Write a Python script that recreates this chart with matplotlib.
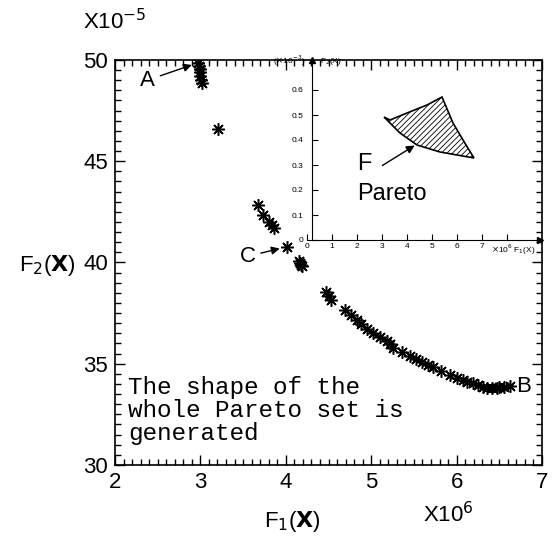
import matplotlib
matplotlib.use("Agg")
import matplotlib.pyplot as plt
import matplotlib.ticker as mticker

plt.rcParams['font.family'] = ['Liberation Sans', 'DejaVu Sans']
plt.rcParams['mathtext.fontset'] = 'dejavusans'
plt.rcParams['hatch.linewidth'] = 0.6

# main Pareto points (F1 in 1e6, F2 in 1e-5)
f1 = [2.97, 2.98, 2.99, 3.00, 3.00, 3.01, 3.02, 3.21,
      3.67, 3.73, 3.80, 3.84, 3.86, 4.01,
      4.15, 4.17, 4.19, 4.18, 4.47, 4.50, 4.53,
      4.69, 4.76, 4.83, 4.88, 4.95, 5.02, 5.10, 5.18, 5.22, 5.26,
      5.36, 5.45, 5.52, 5.60, 5.66, 5.72, 5.82, 5.92, 6.00, 6.07,
      6.12, 6.19, 6.25, 6.31, 6.36, 6.42, 6.47, 6.50, 6.56, 6.62]
f2 = [49.85, 49.7, 49.55, 49.4, 49.2, 49.0, 48.85, 46.6,
      42.85, 42.35, 42.0, 41.85, 41.7, 40.75,
      40.05, 39.95, 39.85, 39.9, 38.55, 38.35, 38.15,
      37.65, 37.4, 37.15, 36.95, 36.7, 36.5, 36.3, 36.1, 35.95, 35.8,
      35.6, 35.4, 35.25, 35.1, 34.95, 34.85, 34.65, 34.45, 34.3, 34.2,
      34.1, 34.05, 33.95, 33.85, 33.8, 33.8, 33.8, 33.85, 33.85, 33.9]

# inset: sketch of the Pareto front region
shape_x = [3.08, 3.32, 4.0, 4.8, 5.4, 5.84, 6.24, 6.68, 5.32, 4.4, 3.72]
shape_y = [0.492, 0.48, 0.508, 0.54, 0.572, 0.468, 0.40, 0.328, 0.352, 0.38, 0.428]
inset_xticks = [0, 1, 2, 3, 4, 5, 6, 7, 8]
inset_xlabels = ['0', '1', '2', '3', '4', '5', '6', '7', '']
inset_yticks = [0, 0.1, 0.2, 0.3, 0.4, 0.5, 0.6]
inset_ylabels = ['0', '0.1', '0.2', '0.3', '0.4', '0.5', '0.6']

fig = plt.figure(figsize=(5.57, 5.36), dpi=100)
ax = fig.add_axes([0.2065, 0.1325, 0.7666, 0.7556])

ax.plot(f1, f2, linestyle='none', marker=(8, 2, 0), markersize=9,
        markeredgewidth=1.1, color='black')

ax.set_xlim(2, 7)
ax.set_ylim(30, 50)
ax.xaxis.set_major_locator(mticker.MultipleLocator(1))
ax.xaxis.set_minor_locator(mticker.MultipleLocator(0.1))
ax.yaxis.set_major_locator(mticker.MultipleLocator(5))
ax.yaxis.set_minor_locator(mticker.MultipleLocator(0.5))
ax.tick_params(which='both', direction='in', top=True, right=True,
               labelsize=16, width=1, pad=5)
ax.tick_params(which='major', length=7)
ax.tick_params(which='minor', length=4)
for s in ax.spines.values():
    s.set_linewidth(1.2)

# annotations
arrow = dict(arrowstyle='-|>', color='black', lw=1, mutation_scale=12)
ax.annotate('A', xy=(2.93, 49.8), xytext=(2.38, 49.0), fontsize=16,
            ha='center', va='center', arrowprops=arrow)
ax.annotate('C', xy=(3.96, 40.72), xytext=(3.55, 40.3), fontsize=16,
            ha='center', va='center', arrowprops=arrow)
ax.text(6.78, 33.9, 'B', fontsize=16, ha='center', va='center')
ax.text(2.15, 34.4, 'The shape of the\nwhole Pareto set is\ngenerated',
        family='Liberation Mono', fontsize=17.5, ha='left', va='top',
        linespacing=1.0)

# axis labels and multipliers
fig.text(47 / 557, 1 - 265 / 536, r'F$_2$($\mathbf{X}$)', fontsize=16,
         ha='center', va='center')
fig.text(292 / 557, 1 - 522 / 536, r'F$_1$($\mathbf{X}$)', fontsize=16,
         ha='center', va='center')
fig.text(448 / 557, 1 - 515 / 536, r'X10$^6$', fontsize=16,
         ha='center', va='center')
fig.text(115 / 557, 1 - 22 / 536, r'X10$^{-5}$', fontsize=16,
         ha='center', va='center')

# inset
ins = fig.add_axes([290 / 557, 1 - 255 / 536, 253 / 557, 200 / 536])
ins.patch.set_alpha(0)
ins.set_xlim(-0.68, 9.44)
ins.set_ylim(-0.06, 0.74)
ins.spines['top'].set_visible(False)
ins.spines['right'].set_visible(False)
ins.spines['left'].set_position(('data', 0.2))
ins.spines['bottom'].set_position(('data', 0))
ins.spines['left'].set_bounds(0, 0.72)
ins.spines['bottom'].set_bounds(0, 9.3)
ins.set_xticks(inset_xticks)
ins.set_xticklabels(inset_xlabels)
ins.set_yticks(inset_yticks)
ins.set_yticklabels(inset_ylabels)
ins.tick_params(direction='in', length=4, labelsize=6)
ins.tick_params(axis='x', pad=2)
ins.tick_params(axis='y', pad=6)
ins.plot([9.3], [0], marker='>', color='black', markersize=5, clip_on=False)
ins.plot([0.2], [0.72], marker='^', color='black', markersize=5, clip_on=False)
ins.text(7.35, -0.04, r'$\times$10$^6$ F$_1$(X)', fontsize=6, va='center')
ins.text(-0.05, 0.715, r'($\times$10$^{-3}$)', fontsize=6, ha='right', va='center')
ins.text(0.5, 0.715, r'F$_2$(X)', fontsize=6, ha='left', va='center')

ins.fill(shape_x, shape_y, facecolor='white', edgecolor='black',
         hatch='//////', linewidth=1.2)
ins.annotate('', xy=(4.4, 0.384), xytext=(2.92, 0.292),
             arrowprops=dict(arrowstyle='-|>', color='black', lw=1,
                             mutation_scale=12))
ins.text(2.0, 0.305, 'F', fontsize=17, ha='left', va='center')
ins.text(2.0, 0.184, 'Pareto', fontsize=17, ha='left', va='center')

fig.savefig('out.png', dpi=100)
